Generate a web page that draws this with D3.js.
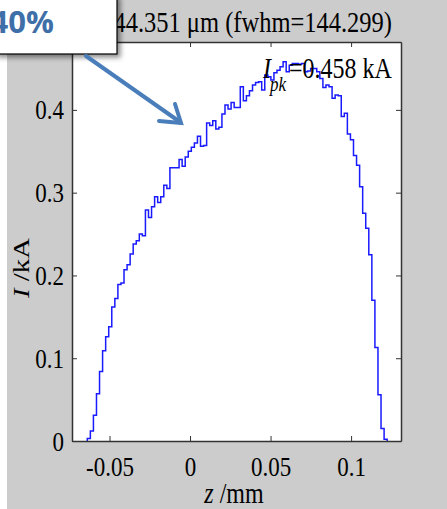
<!DOCTYPE html>
<html>
<head>
<meta charset="utf-8">
<script src="https://cdn.jsdelivr.net/npm/d3@7"></script>
<style>
  body { margin: 0; background: #fff; }
  text { font-family: "Liberation Serif", "Times New Roman", serif; fill: #000; }
  .tall { transform-box: fill-box; transform-origin: center; transform: scaleY(1.2); }
</style>
</head>
<body>
<svg id="chart" width="447" height="509"></svg>
<script>
// current profile, one value per bin (kA)
var binStart = -0.0638, binWidth = 0.0019;
var current = [
  0.003, 0.012, 0.031, 0.057, 0.084, 0.109, 0.126, 0.138, 0.162, 0.172,
  0.189, 0.191, 0.207, 0.213, 0.226, 0.238, 0.242, 0.250, 0.248, 0.279,
  0.270, 0.283, 0.295, 0.288, 0.295, 0.309, 0.305, 0.330, 0.330, 0.330,
  0.340, 0.332, 0.343, 0.350, 0.355, 0.360, 0.368, 0.356, 0.357, 0.384,
  0.381, 0.387, 0.377, 0.379, 0.395, 0.406, 0.401, 0.409, 0.403, 0.403,
  0.428, 0.411, 0.417, 0.423, 0.430, 0.433, 0.434, 0.424, 0.442, 0.440,
  0.436, 0.445, 0.448, 0.452, 0.458, 0.446, 0.454, 0.456, 0.456, 0.455,
  0.456, 0.446, 0.447, 0.450, 0.450, 0.446, 0.438, 0.427, 0.430, 0.428,
  0.414, 0.418, 0.417, 0.392, 0.396, 0.371, 0.364, 0.345, 0.333, 0.307,
  0.275, 0.257, 0.225, 0.170, 0.113, 0.056, 0.015, 0.002
];
var xTicks = [-0.05, 0, 0.05, 0.1];
var xTickLabels = ["-0.05", "0", "0.05", "0.1"];
var yTicks = [0, 0.1, 0.2, 0.3, 0.4];
var yTickLabels = ["0", "0.1", "0.2", "0.3", "0.4"];
var titleText = "\u03c3\u2082=144.351 \u03bcm (fwhm=144.299)";
var peakValue = "=0.458 kA";
var noteText = "40%";

var svg = d3.select("#chart");
var W = 447, H = 509;
var m = {left: 72, right: 401, top: 42, bottom: 441};

// figure background
svg.append("rect").attr("x", 7).attr("y", 0).attr("width", W - 7).attr("height", H).attr("fill", "#cccccc");

var x = d3.scaleLinear().domain([-0.0733, 0.131]).range([m.left, m.right]);
var y = d3.scaleLinear().domain([0, 0.482]).range([m.bottom, m.top]);

svg.append("rect")
  .attr("x", m.left).attr("y", m.top)
  .attr("width", m.right - m.left).attr("height", m.bottom - m.top)
  .attr("fill", "#fff");

// step line
var pts = [[binStart, 0]];
current.forEach(function(v, i) { pts.push([binStart + i * binWidth, v]); });
pts.push([binStart + current.length * binWidth, 0]);

var line = d3.line()
  .x(function(d) { return x(d[0]); })
  .y(function(d) { return y(d[1]); })
  .curve(d3.curveStepAfter);

svg.append("path").datum(pts)
  .attr("d", line)
  .attr("fill", "none")
  .attr("stroke", "#1a1aff")
  .attr("stroke-width", 1.5);

// axes, MATLAB style inward ticks
function styleAxis(g) {
  g.select(".domain").attr("stroke", "#333").attr("stroke-width", 1.5);
  g.selectAll(".tick line").attr("stroke", "#333").attr("stroke-width", 1);
  g.selectAll("text").attr("font-family", "Liberation Serif").attr("font-size", 23)
    .attr("fill", "#000").attr("class", "tall");
}

var xAxis = svg.append("g").attr("transform", "translate(0," + m.bottom + ")")
  .call(d3.axisBottom(x).tickValues(xTicks).tickSize(-5).tickSizeOuter(0)
    .tickFormat(function(d, i) { return xTickLabels[i]; }));
styleAxis(xAxis);
xAxis.selectAll("text").attr("y", 17);

var yAxis = svg.append("g").attr("transform", "translate(" + m.left + ",0)")
  .call(d3.axisLeft(y).tickValues(yTicks).tickSize(-5).tickSizeOuter(0)
    .tickFormat(function(d, i) { return yTickLabels[i]; }));
styleAxis(yAxis);
yAxis.selectAll("text").attr("x", -8);

var xTop = svg.append("g").attr("transform", "translate(0," + m.top + ")")
  .call(d3.axisTop(x).tickValues(xTicks).tickSize(-5).tickSizeOuter(0).tickFormat(""));
styleAxis(xTop);

var yRight = svg.append("g").attr("transform", "translate(" + m.right + ",0)")
  .call(d3.axisRight(y).tickValues(yTicks).tickSize(-5).tickSizeOuter(0).tickFormat(""));
styleAxis(yRight);

// title (left part sits under the callout box)
svg.append("text").attr("x", 392).attr("y", 30).attr("class", "tall")
  .attr("text-anchor", "end").attr("font-size", 24.5)
  .text(titleText);

// axis labels
var xl = svg.append("text").attr("x", 234).attr("y", 501).attr("class", "tall")
  .attr("text-anchor", "middle").attr("font-size", 24);
xl.append("tspan").attr("font-style", "italic").text("z");
xl.append("tspan").text(" /mm");

var yl = svg.append("text")
  .attr("transform", "translate(29,268) rotate(-90) scale(1.2,1)")
  .attr("text-anchor", "middle").attr("font-size", 24);
yl.append("tspan").attr("font-style", "italic").text("I");
yl.append("tspan").text(" /kA");

// peak annotation
svg.append("text").attr("x", 263).attr("y", 76).attr("font-size", 24).attr("class", "tall")
  .attr("font-style", "italic").text("I");
svg.append("text").attr("x", 270).attr("y", 90).attr("font-size", 17).attr("class", "tall")
  .attr("font-style", "italic").text("pk");
svg.append("text").attr("x", 289).attr("y", 76).attr("font-size", 24).attr("class", "tall")
  .text(peakValue);

// callout box with arrow
var defs = svg.append("defs");
var f = defs.append("filter").attr("id", "shadow").attr("x", "-20%").attr("y", "-20%").attr("width", "150%").attr("height", "160%");
f.append("feDropShadow").attr("dx", 3).attr("dy", 3).attr("stdDeviation", 2.5).attr("flood-color", "#000").attr("flood-opacity", 0.45);

svg.append("rect").attr("x", -5).attr("y", -5).attr("width", 122).attr("height", 59)
  .attr("fill", "#fff").attr("stroke", "#000").attr("stroke-width", 1.2)
  .attr("filter", "url(#shadow)");
svg.append("text").attr("x", 54).attr("y", 33).attr("text-anchor", "end")
  .style("font-family", "'Open Sans', 'Noto Sans', sans-serif")
  .attr("font-weight", "bold").attr("font-size", 31).style("fill", "#3f6fa8")
  .text(noteText);

var arrowColor = "#4a7ebb";
svg.append("line").attr("x1", 86).attr("y1", 56).attr("x2", 180).attr("y2", 122)
  .attr("stroke", arrowColor).attr("stroke-width", 4).attr("stroke-linecap", "round");
svg.append("path").attr("d", "M159,121 L181,123 L175,104")
  .attr("fill", "none").attr("stroke", arrowColor).attr("stroke-width", 4)
  .attr("stroke-linejoin", "miter").attr("stroke-linecap", "round");
</script>
</body>
</html>
